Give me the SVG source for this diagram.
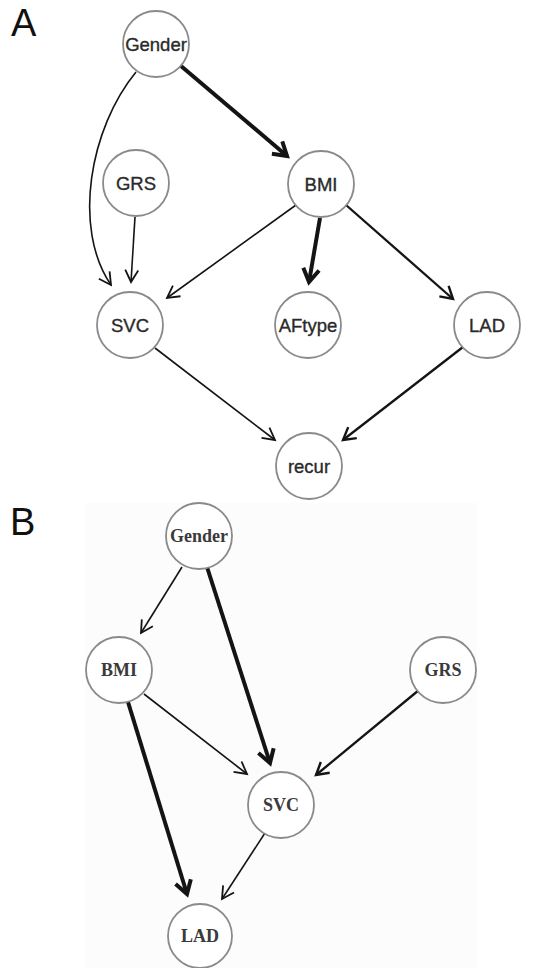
<svg xmlns="http://www.w3.org/2000/svg" width="544" height="968" viewBox="0 0 544 968">
<style>
.bg{fill:#ffffff}
.node circle{fill:#ffffff;stroke:#8a8a8a;stroke-width:1.8}
.ta{font-family:"Liberation Sans",Arial,sans-serif;font-size:18.5px;fill:#2a2a2a;stroke:#2a2a2a;stroke-width:0.35;text-anchor:middle}
.tb{font-family:"Liberation Serif","Times New Roman",serif;font-size:18px;font-weight:bold;fill:#3a3a3a;text-anchor:middle}
.panel{font-family:"Liberation Sans",Arial,sans-serif;font-size:38px;fill:#111111}
.e{fill:none;stroke:#141414}
.thin{stroke-width:1.6}
.mid{stroke-width:2.3}
.thick{stroke-width:4}
</style>
<defs>
<marker id="ah1" markerUnits="userSpaceOnUse" viewBox="-16 -10 20 20" refX="0" refY="0" markerWidth="20" markerHeight="20" orient="auto">
<path d="M-12,-6.5 L0,0 L-12,6.5" fill="none" stroke="#141414" stroke-width="1.8"/>
</marker>
<marker id="ah2" markerUnits="userSpaceOnUse" viewBox="-16 -10 20 20" refX="0" refY="0" markerWidth="20" markerHeight="20" orient="auto">
<path d="M-12,-7 L0,0 L-12,7" fill="none" stroke="#141414" stroke-width="2.4"/>
</marker>
<marker id="ah3" markerUnits="userSpaceOnUse" viewBox="-18 -12 24 24" refX="0" refY="0" markerWidth="24" markerHeight="24" orient="auto">
<path d="M-13,-8 L0,0 L-13,8" fill="none" stroke="#141414" stroke-width="4"/>
</marker>
</defs>
<rect class="bg" x="0" y="0" width="544" height="968"/>
<rect x="86" y="503" width="391" height="465" fill="#fcfcfc"/>
<text class="panel" x="11" y="36">A</text>
<text class="panel" x="10" y="535">B</text>
<g id="connectors">
<path class="e thin" d="M136,72 C90,128 72,228 111,285" marker-end="url(#ah1)"/>
<path class="e thick" d="M181,66 L287,156" marker-end="url(#ah3)"/>
<path class="e thin" d="M135,217 L131,282" marker-end="url(#ah1)"/>
<path class="e thin" d="M296,205 L167,298" marker-end="url(#ah1)"/>
<path class="e thick" d="M320,218 L309,282" marker-end="url(#ah3)"/>
<path class="e mid" d="M346,205 L453,299" marker-end="url(#ah2)"/>
<path class="e thin" d="M155,348 L275,440" marker-end="url(#ah1)"/>
<path class="e mid" d="M463,347 L343,440" marker-end="url(#ah2)"/>
<path class="e thin" d="M182,567 L141,633" marker-end="url(#ah1)"/>
<path class="e thick" d="M207,567 L270,763" marker-end="url(#ah3)"/>
<path class="e thin" d="M144,694 L247,774" marker-end="url(#ah1)"/>
<path class="e thick" d="M128,702 L187,894" marker-end="url(#ah3)"/>
<path class="e mid" d="M419,690 L316,775" marker-end="url(#ah2)"/>
<path class="e thin" d="M265,833 L222,899" marker-end="url(#ah1)"/>
</g>
<g id="A-Gender" class="node"><circle cx="156" cy="44" r="33"/><text class="ta" x="156" y="50.5">Gender</text></g>
<g id="A-GRS" class="node"><circle cx="136" cy="183" r="33"/><text class="ta" x="136" y="189.5">GRS</text></g>
<g id="A-BMI" class="node"><circle cx="321" cy="184" r="33"/><text class="ta" x="321" y="190.5">BMI</text></g>
<g id="A-SVC" class="node"><circle cx="130" cy="325" r="33"/><text class="ta" x="130" y="331.5">SVC</text></g>
<g id="A-AFtype" class="node"><circle cx="308" cy="325" r="33"/><text class="ta" x="308" y="331.5">AFtype</text></g>
<g id="A-LAD" class="node"><circle cx="487" cy="325" r="33"/><text class="ta" x="487" y="331.5">LAD</text></g>
<g id="A-recur" class="node"><circle cx="309" cy="466" r="33"/><text class="ta" x="309" y="472.5">recur</text></g>
<g id="B-Gender" class="node"><circle cx="199" cy="536" r="33"/><text class="tb" x="199" y="542">Gender</text></g>
<g id="B-BMI" class="node"><circle cx="119" cy="670" r="33"/><text class="tb" x="119" y="676">BMI</text></g>
<g id="B-GRS" class="node"><circle cx="443" cy="670" r="33"/><text class="tb" x="443" y="676">GRS</text></g>
<g id="B-SVC" class="node"><circle cx="281" cy="805" r="33"/><text class="tb" x="281" y="811">SVC</text></g>
<g id="B-LAD" class="node"><circle cx="200" cy="936" r="32"/><text class="tb" x="200" y="942">LAD</text></g>
</svg>
